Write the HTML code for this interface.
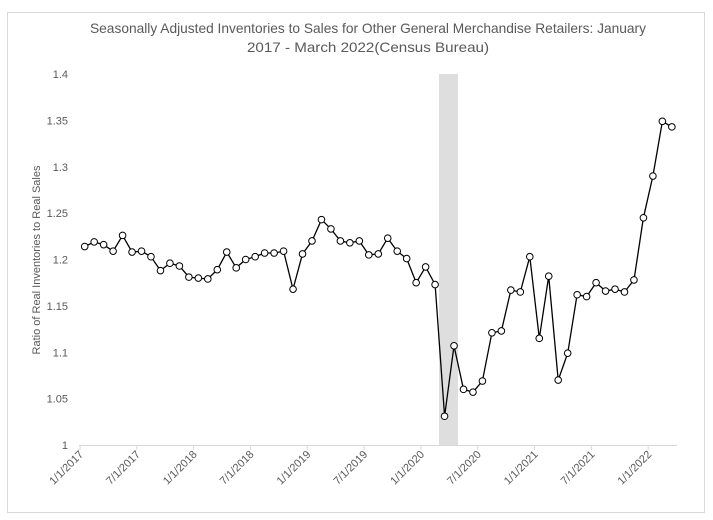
<!DOCTYPE html>
<html><head><meta charset="utf-8"><style>body{margin:0;background:#fff}svg{display:block}</style></head>
<body>
<svg width="713" height="520" xmlns="http://www.w3.org/2000/svg" font-family="Liberation Sans, sans-serif">
<rect x="0" y="0" width="713" height="520" fill="#fff"/>
<rect x="7.5" y="12.5" width="697" height="500" fill="none" stroke="#d9d9d9"/>
<text x="368" y="33" font-size="14" fill="#595959" text-anchor="middle" textLength="556" lengthAdjust="spacingAndGlyphs">Seasonally Adjusted Inventories to Sales for Other General Merchandise Retailers: January</text>
<text x="368" y="52" font-size="14" fill="#595959" text-anchor="middle" textLength="242" lengthAdjust="spacingAndGlyphs">2017 - March 2022(Census Bureau)</text>
<rect x="439" y="74" width="19" height="371" fill="#dedede"/>
<line x1="79" y1="445.5" x2="677" y2="445.5" stroke="#d9d9d9"/>
<g font-size="11" fill="#595959" text-anchor="end" id="yl"></g>
<g id="xl" font-size="11" fill="#595959"></g>
<text transform="translate(40,260) rotate(-90)" font-size="11" fill="#595959" text-anchor="middle">Ratio of Real Inventories to Real Sales</text>
<polyline id="ln" fill="none" stroke="#000" stroke-width="1.3"/>
<g id="pts" fill="#fff" stroke="#000" stroke-width="1"></g>
</svg>
<script>
var v=[1.214,1.219,1.216,1.209,1.226,1.208,1.209,1.203,1.188,1.196,1.193,1.181,
1.180,1.179,1.189,1.208,1.191,1.200,1.203,1.207,1.207,1.209,1.168,1.206,
1.220,1.243,1.233,1.220,1.218,1.220,1.205,1.206,1.223,1.209,1.201,1.175,
1.192,1.173,1.031,1.107,1.060,1.057,1.069,1.121,1.123,1.167,1.165,1.203,
1.115,1.182,1.070,1.099,1.162,1.160,1.175,1.166,1.168,1.165,1.178,1.245,
1.290,1.349,1.343];
var ns="http://www.w3.org/2000/svg";
function Y(a){return 445-(a-1)*927.5}
var p=[],g=document.getElementById('pts');
v.forEach(function(a,i){var x=84.7+9.47*i,y=Y(a);p.push(x.toFixed(1)+','+y.toFixed(1));
var c=document.createElementNS(ns,'circle');c.setAttribute('cx',x);c.setAttribute('cy',y);c.setAttribute('r',3.3);g.appendChild(c);});
document.getElementById('ln').setAttribute('points',p.join(' '));
var yl=document.getElementById('yl');
['1','1.05','1.1','1.15','1.2','1.25','1.3','1.35','1.4'].forEach(function(t,i){var e=document.createElementNS(ns,'text');e.setAttribute('x',68);e.setAttribute('y',Y(1+i*0.05)+4);e.textContent=t;yl.appendChild(e);});
var xl=document.getElementById('xl');
['1/1/2017','7/1/2017','1/1/2018','7/1/2018','1/1/2019','7/1/2019','1/1/2020','7/1/2020','1/1/2021','7/1/2021','1/1/2022'].forEach(function(t,i){var x=80+56.82*i;
var l=document.createElementNS(ns,'line');l.setAttribute('x1',x);l.setAttribute('x2',x);l.setAttribute('y1',445);l.setAttribute('y2',450);l.setAttribute('stroke','#d9d9d9');xl.appendChild(l);
var e=document.createElementNS(ns,'text');e.setAttribute('text-anchor','end');e.setAttribute('transform','translate('+(x+4)+',455) rotate(-45)');e.textContent=t;xl.appendChild(e);});
</script>
</body></html>
